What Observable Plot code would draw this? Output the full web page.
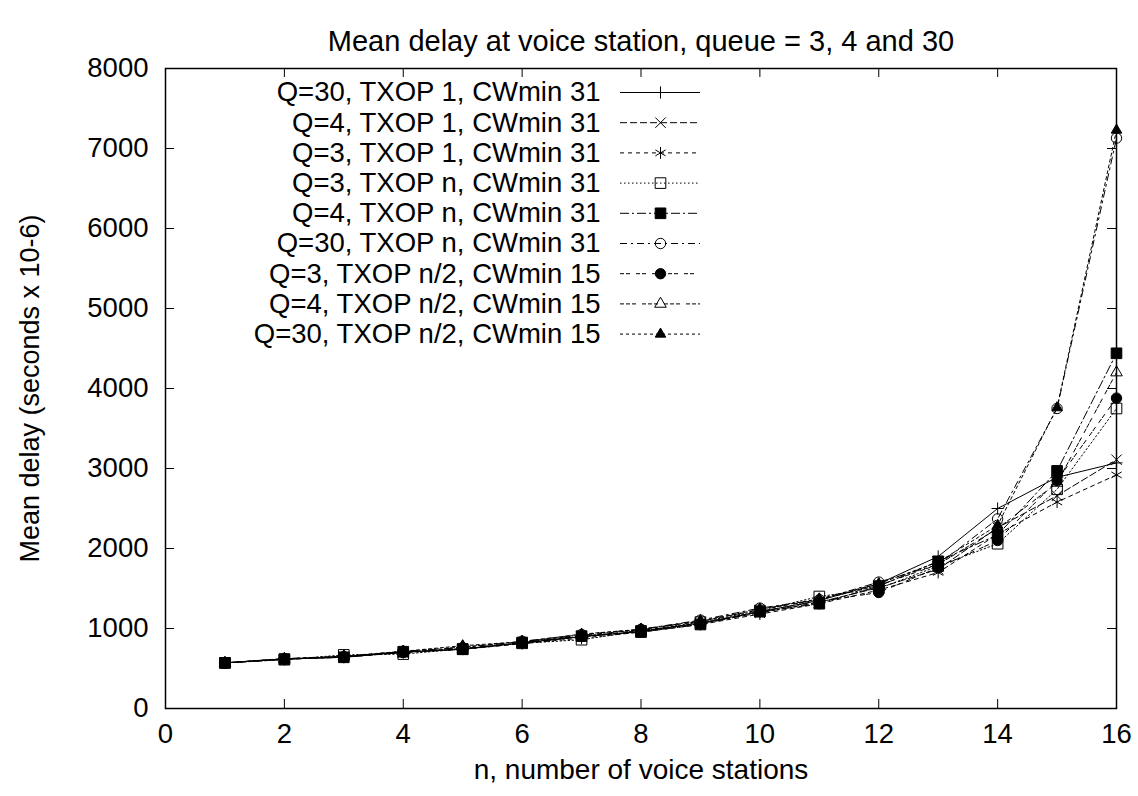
<!DOCTYPE html>
<html><head><meta charset="utf-8">
<script src="https://cdn.jsdelivr.net/npm/d3@7"></script>
<script src="https://cdn.jsdelivr.net/npm/@observablehq/plot@0.6"></script>
<style>
body{margin:0;background:#fff}
svg{font-family:"Liberation Sans",Arial,Helvetica,sans-serif}
</style>
</head><body><div id="chart"></div>
<script>
// ---- data ----
const stations = [1,2,3,4,5,6,7,8,9,10,11,12,13,14,15,16];
const xTicks = [0,2,4,6,8,10,12,14,16];
const yTicks = [0,1000,2000,3000,4000,5000,6000,7000,8000];
const seriesLabels = [
  "Q=30, TXOP 1, CWmin 31",
  "Q=4, TXOP 1, CWmin 31",
  "Q=3, TXOP 1, CWmin 31",
  "Q=3, TXOP n, CWmin 31",
  "Q=4, TXOP n, CWmin 31",
  "Q=30, TXOP n, CWmin 31",
  "Q=3, TXOP n/2, CWmin 15",
  "Q=4, TXOP n/2, CWmin 15",
  "Q=30, TXOP n/2, CWmin 15"
];
const q30_txop1  = [570,620,640,705,745,820,900,965,1070,1210,1350,1560,1900,2500,2890,3070];
const q4_txop1   = [570,615,645,700,740,815,895,960,1065,1195,1330,1510,1740,2260,2660,3110];
const q3_txop1   = [570,612,650,700,740,810,880,955,1050,1180,1310,1480,1700,2180,2580,2920];
const q3_txopn   = [570,610,670,680,745,815,860,970,1080,1225,1400,1500,1780,2060,2740,3750];
const q4_txopn   = [570,618,640,710,740,825,905,955,1050,1210,1310,1530,1840,2170,2970,4440];
const q30_txopn  = [570,625,650,715,760,840,925,990,1105,1255,1360,1580,1800,2370,3750,7130];
const q3_txopn2  = [570,620,640,700,750,825,905,975,1060,1215,1340,1450,1760,2100,2850,3880];
const q4_txopn2  = [570,620,650,710,770,835,915,985,1090,1235,1360,1540,1800,2250,2820,4200];
const q30_txopn2 = [570,620,655,715,785,835,930,990,1095,1240,1370,1560,1830,2290,3760,7230];
const titleText = "Mean delay at voice station, queue = 3, 4 and 30";
const xLabel = "n, number of voice stations";
const yLabel = "Mean delay (seconds x 10-6)";

const values = [q30_txop1,q4_txop1,q3_txop1,q3_txopn,q4_txopn,q30_txopn,q3_txopn2,q4_txopn2,q30_txopn2];

// ---- styles ----
const styles = [
  {dash: null,           symbol: "plus",     fill: "none",  r: 4.0},
  {dash: "7,3",          symbol: "times",    fill: "none",  r: 4.8},
  {dash: "4,4",          symbol: "asterisk", fill: "none",  r: 5.6},
  {dash: "1.5,2.5",      symbol: "square",   fill: "none",  r: 6.0},
  {dash: "9,3,2,3",      symbol: "square",   fill: "black", r: 6.0},
  {dash: "7,4,2,4",      symbol: "circle",   fill: "none",  r: 5.2},
  {dash: "4,2,4,6",      symbol: "circle",   fill: "black", r: 5.2},
  {dash: "4,2,4,2,4,6",  symbol: "triangle", fill: "none",  r: 4.3},
  {dash: "3,3",          symbol: "triangle", fill: "black", r: 3.9}
];

const W = 1138, H = 796;
const mL = 165, mR = 22, mT = 68, mB = 88;
const xMax = 16, yMax = 8000;
const pxX = (W - mL - mR) / xMax;   // px per x unit
const pxY = (H - mT - mB) / yMax;   // px per y unit
const tickPx = 9;
const tX = tickPx / pxX, tY = tickPx / pxY;
const FS = 27.5;

// legend layout (pixel -> data)
const legTextX = (600 - mL) / pxX;
const legLineX1 = (620 - mL) / pxX;
const legLineX2 = (700 - mL) / pxX;
const legSymX = (660 - mL) / pxX;
const legY = i => (H - mB - (92 + 30.2 * i)) / pxY;

const marks = [];
// inward ticks on all four sides
marks.push(Plot.ruleX(xTicks, {x: d => d, y1: 0, y2: tY, stroke: "black", strokeWidth: 1}));
marks.push(Plot.ruleX(xTicks, {x: d => d, y1: yMax - tY, y2: yMax, stroke: "black", strokeWidth: 1}));
marks.push(Plot.ruleY(yTicks, {y: d => d, x1: 0, x2: tX, stroke: "black", strokeWidth: 1}));
marks.push(Plot.ruleY(yTicks, {y: d => d, x1: xMax - tX, x2: xMax, stroke: "black", strokeWidth: 1}));

values.forEach((vals, i) => {
  const s = styles[i];
  const data = stations.map((n, j) => ({n, v: vals[j]}));
  marks.push(Plot.line(data, {x: "n", y: "v", stroke: "black", strokeWidth: 1, strokeDasharray: s.dash}));
  marks.push(Plot.dot(data, {x: "n", y: "v", symbol: () => s.symbol, r: s.r, fill: s.fill, stroke: "black", strokeWidth: 1}));
  // legend sample
  const ly = legY(i);
  marks.push(Plot.ruleY([ly], {y: d => d, x1: legLineX1, x2: legLineX2, stroke: "black", strokeWidth: 1, strokeDasharray: s.dash}));
  marks.push(Plot.dot([ly], {x: () => legSymX, y: d => d, symbol: () => s.symbol, r: s.r, fill: s.fill, stroke: "black", strokeWidth: 1}));
});
marks.push(Plot.text(seriesLabels, {x: () => legTextX, y: (d, i) => legY(i), text: d => d, textAnchor: "end", fontSize: FS, fill: "black"}));

marks.push(Plot.frame({stroke: "black", strokeWidth: 1.5}));
marks.push(Plot.axisX({ticks: xTicks, tickSize: 0, tickPadding: 15, fontSize: FS, label: null, tickFormat: d => String(d)}));
marks.push(Plot.axisY({ticks: yTicks, tickSize: 0, tickPadding: 17, fontSize: FS, label: null, tickFormat: d => String(d)}));
marks.push(Plot.text([titleText], {frameAnchor: "top", dy: -38, text: d => d, fontSize: 29, fill: "black"}));
marks.push(Plot.text([xLabel], {frameAnchor: "bottom", dy: 70, text: d => d, fontSize: 28, fill: "black"}));
marks.push(Plot.text([yLabel], {frameAnchor: "left", dx: -135, rotate: -90, textAnchor: "middle", text: d => d, fontSize: 27, fill: "black"}));

const chart = Plot.plot({
  width: W, height: H,
  marginLeft: mL, marginRight: mR, marginTop: mT, marginBottom: mB,
  x: {domain: [0, xMax]},
  y: {domain: [0, yMax]},
  style: {fontFamily: '"Liberation Sans", Arial, sans-serif', color: "black", background: "white"},
  marks
});
document.getElementById("chart").appendChild(chart);
</script>
</body></html>
